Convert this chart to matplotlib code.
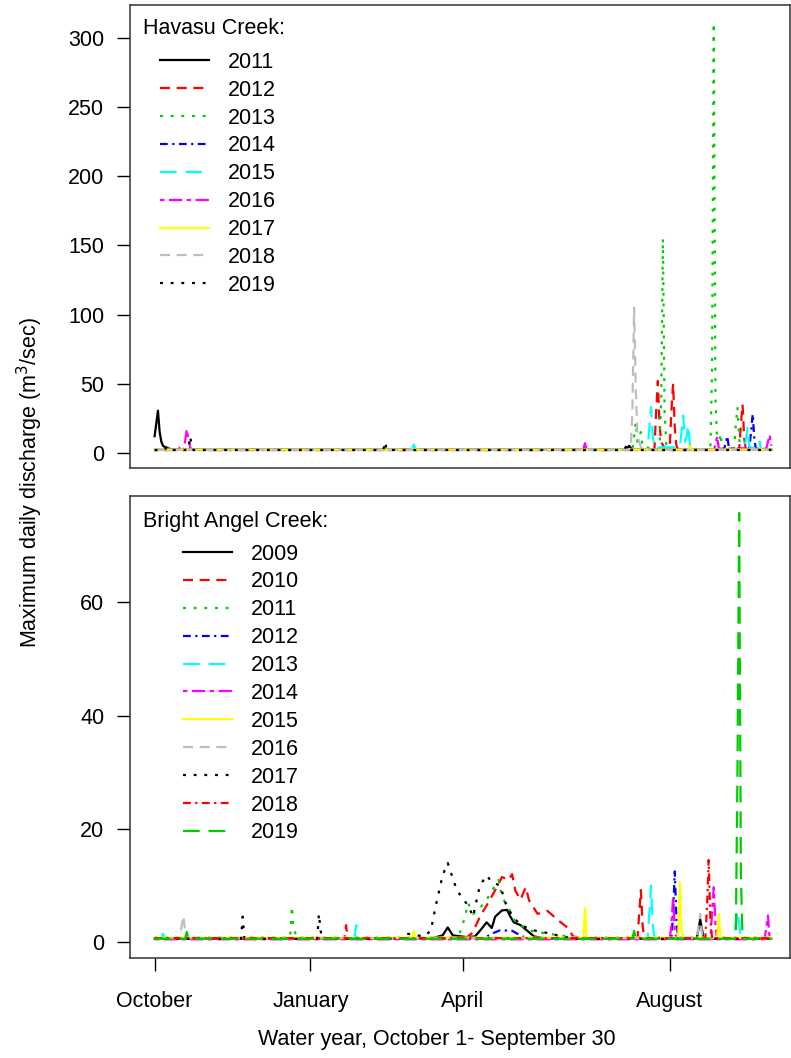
import matplotlib
matplotlib.use("Agg")
import matplotlib.pyplot as plt

plt.rcParams["font.family"] = ["Liberation Sans", "DejaVu Sans"]

# R default palette / line types (cycled like base R does)
R_COLORS = ["black", "#FF0000", "#00CD00", "#0000FF", "#00FFFF", "#FF00FF", "#FFFF00", "#BEBEBE"]
R_LTY = ["-", (0, (4.5, 3)), (0, (1.3, 3.5)), (0, (3.5, 2, 1, 2)), (0, (7.5, 4)), (0, (2, 2, 6, 2))]

MONTH_DAYS = [1, 93, 183, 305]
MONTH_LABELS = ["October", "January", "April", "August"]

# Havasu Creek, (day of water year, max daily discharge m3/s)
havasu_years = [2011, 2012, 2013, 2014, 2015, 2016, 2017, 2018, 2019]
hav_2011 = [(1, 12.0), (2, 21.0), (3, 30.5), (4, 15.0), (5, 8.0), (6, 5.0), (8, 3.5), (12, 2.3),
            (279, 2.3), (281, 5.0), (283, 2.3), (365, 2.3)]
hav_2012 = [(1, 2.2), (15, 2.2), (16, 4.0), (17, 2.2), (296, 2.2), (297, 30.0), (298, 52.0), (299, 20.0),
            (300, 8.0), (302, 3.0), (305, 3.0), (306, 30.0), (307, 50.0), (308, 18.0), (309, 5.0),
            (310, 2.2), (346, 2.2), (347, 20.0), (348, 35.0), (349, 10.0), (350, 2.2), (365, 2.2)]
hav_2013 = [(1, 2.0), (283, 2.0), (285, 22.0), (286, 8.0), (288, 15.0), (289, 4.0), (299, 3.0),
            (300, 40.0), (301, 155.0), (302, 30.0), (303, 6.0), (305, 2.0), (329, 2.0), (330, 60.0),
            (331, 311.0), (332, 40.0), (333, 8.0), (334, 5.0), (335, 14.0), (336, 3.0), (343, 3.0),
            (344, 20.0), (345, 33.0), (346, 10.0), (347, 2.0), (365, 2.0)]
hav_2014 = [(1, 2.1), (337, 2.1), (338, 7.0), (339, 12.0), (340, 3.0), (352, 3.0), (353, 15.0),
            (354, 28.0), (355, 9.0), (356, 2.1), (365, 2.1)]
hav_2015 = [(1, 2.2), (153, 2.2), (154, 6.0), (155, 2.2), (292, 2.2), (293, 18.0), (294, 33.0),
            (295, 12.0), (296, 4.0), (311, 4.0), (312, 15.0), (313, 27.0), (314, 8.0), (315, 12.0),
            (316, 20.0), (317, 5.0), (319, 2.2), (349, 2.2), (350, 10.0), (351, 18.0), (352, 4.0),
            (357, 3.0), (358, 8.0), (359, 2.2), (365, 2.2)]
hav_2016 = [(1, 2.0), (18, 2.0), (19, 8.0), (20, 17.0), (21, 10.0), (22, 4.0), (23, 2.0), (254, 2.0),
            (255, 7.0), (256, 2.0), (331, 2.0), (332, 6.0), (333, 12.0), (334, 3.0), (362, 3.0),
            (364, 13.0), (365, 5.0)]
hav_2017 = [(1, 2.3), (316, 2.3), (317, 5.0), (318, 2.3), (365, 2.3)]
hav_2018 = [(1, 2.1), (282, 2.1), (283, 30.0), (284, 105.0), (285, 45.0), (286, 12.0), (288, 4.0),
            (290, 2.1), (365, 2.1)]
hav_2019 = [(1, 2.0), (7, 2.0), (8, 4.0), (9, 2.0), (21, 2.0), (22, 12.0), (23, 4.0), (24, 2.0),
            (136, 2.0), (137, 8.0), (138, 2.0), (199, 2.0), (200, 3.0), (201, 2.0), (278, 2.0),
            (280, 6.0), (282, 2.0), (365, 2.0)]

# Bright Angel Creek
bright_years = [2009, 2010, 2011, 2012, 2013, 2014, 2015, 2016, 2017, 2018, 2019]
ba_2009 = [(1, 0.7), (165, 0.7), (171, 1.2), (174, 2.6), (177, 1.2), (185, 0.9), (190, 1.0), (193, 2.0),
           (197, 3.5), (200, 2.5), (202, 4.5), (206, 5.6), (209, 5.7), (211, 4.5), (213, 3.5), (217, 3.0),
           (221, 2.0), (225, 1.0), (231, 0.7), (321, 0.7), (323, 4.0), (325, 0.7), (365, 0.7)]
ba_2010 = [(1, 0.6), (113, 0.6), (114, 3.0), (115, 0.6), (185, 0.8), (188, 1.5), (190, 2.5), (193, 4.5),
           (197, 6.5), (203, 9.7), (206, 11.5), (210, 11.0), (212, 12.0), (214, 9.0), (217, 7.5),
           (220, 9.7), (222, 7.4), (227, 5.0), (233, 5.5), (239, 3.9), (245, 2.5), (248, 1.0), (255, 0.6),
           (286, 0.6), (287, 5.0), (288, 9.2), (289, 3.0), (290, 0.6), (365, 0.6)]
ba_2011 = [(1, 0.8), (81, 0.8), (82, 6.3), (83, 2.5), (85, 0.8), (176, 0.8), (181, 1.5), (184, 4.2),
           (186, 6.9), (189, 5.0), (193, 6.0), (197, 7.5), (201, 9.5), (204, 11.0), (206, 8.0), (210, 6.0),
           (213, 4.0), (217, 3.0), (223, 2.0), (233, 1.5), (245, 1.0), (252, 0.8), (365, 0.8)]
ba_2012 = [(1, 0.6), (195, 0.6), (200, 1.5), (205, 2.1), (212, 2.0), (218, 1.0), (225, 0.6), (306, 0.6),
           (307, 5.0), (308, 12.5), (309, 4.0), (310, 0.6), (365, 0.6)]
ba_2013 = [(1, 0.7), (5, 0.7), (6, 1.5), (7, 0.7), (119, 0.7), (120, 3.0), (121, 0.7), (292, 0.7),
           (293, 5.0), (294, 10.0), (295, 3.0), (296, 0.7), (343, 0.7), (345, 5.5), (347, 0.7), (365, 0.7)]
ba_2014 = [(1, 0.5), (305, 0.5), (306, 3.0), (307, 8.0), (308, 2.0), (309, 0.5), (329, 0.5), (331, 9.7),
           (332, 3.0), (333, 0.5), (361, 0.5), (363, 4.7), (364, 0.5), (365, 0.5)]
ba_2015 = [(1, 0.8), (153, 0.8), (154, 2.0), (155, 0.8), (254, 0.8), (255, 6.0), (256, 0.8), (310, 0.8),
           (311, 10.6), (312, 2.0), (313, 0.8), (333, 0.8), (334, 5.0), (335, 0.8), (365, 0.8)]
ba_2016 = [(1, 0.7), (16, 0.7), (17, 3.0), (18, 4.6), (19, 2.0), (20, 0.7), (321, 0.7), (323, 5.0),
           (324, 1.5), (325, 0.7), (365, 0.7)]
ba_2017 = [(1, 0.6), (52, 0.6), (53, 4.5), (54, 0.6), (97, 0.6), (98, 5.0), (99, 2.0), (100, 0.6),
           (148, 0.6), (150, 1.5), (160, 1.0), (164, 2.0), (167, 6.5), (171, 11.8), (174, 14.0),
           (177, 11.3), (179, 9.5), (182, 8.0), (186, 6.5), (189, 4.5), (190, 6.0), (193, 10.0),
           (197, 11.8), (200, 10.6), (205, 10.0), (208, 7.0), (212, 4.7), (217, 3.0), (226, 2.0),
           (235, 1.5), (241, 1.0), (250, 0.6), (365, 0.6)]
ba_2018 = [(1, 0.7), (326, 0.7), (327, 6.0), (328, 14.5), (329, 4.0), (330, 0.7), (365, 0.7)]
ba_2019 = [(1, 0.6), (19, 0.6), (20, 1.8), (21, 0.6), (283, 0.6), (284, 2.0), (285, 0.6), (344, 0.6),
           (345, 30.0), (346, 75.8), (347, 12.0), (348, 0.6), (365, 0.6)]

havasu_series = [hav_2011, hav_2012, hav_2013, hav_2014, hav_2015, hav_2016, hav_2017, hav_2018, hav_2019]
bright_series = [ba_2009, ba_2010, ba_2011, ba_2012, ba_2013, ba_2014, ba_2015, ba_2016, ba_2017,
                 ba_2018, ba_2019]

FS = 15.5


def draw_panel(ax, years, series, title, ylim, yticks, leg_anchor):
    for i, (year, pts) in enumerate(zip(years, series)):
        days, q = zip(*pts)
        ax.plot(days, q, color=R_COLORS[i % 8], ls=R_LTY[i % 6], lw=1.6, label=str(year))
    ax.set_xlim(-13.5, 376)
    ax.set_ylim(*ylim)
    ax.set_yticks(yticks)
    ax.tick_params(axis="y", direction="out", length=9.5, width=1, pad=9, labelsize=FS)
    for sp in ax.spines.values():
        sp.set_linewidth(1.1)
        sp.set_color("#333333")
    ax.text(0.0197, title[1], title[0], transform=ax.transAxes, fontsize=FS, va="center", ha="left")
    ax.legend(loc="upper left", bbox_to_anchor=leg_anchor, frameon=False, fontsize=FS,
              handlelength=2.3, handletextpad=0.85, labelspacing=0.32, borderpad=0, borderaxespad=0)


fig = plt.figure(figsize=(7.91, 10.58), dpi=100)
ax_top = fig.add_axes([130 / 791, 1 - 468 / 1058, 660 / 791, 463 / 1058])
ax_bot = fig.add_axes([130 / 791, 1 - 958 / 1058, 660 / 791, 462 / 1058])

draw_panel(ax_top, havasu_years, havasu_series, ("Havasu Creek:", 0.950),
           (-11, 324), [0, 50, 100, 150, 200, 250, 300], (0.045, 0.899))
ax_top.set_xticks([])

draw_panel(ax_bot, bright_years, bright_series, ("Bright Angel Creek:", 0.944),
           (-2.8, 78.8), [0, 20, 40, 60], (0.080, 0.897))
ax_bot.set_xticks(MONTH_DAYS)
ax_bot.set_xticklabels(MONTH_LABELS)
ax_bot.tick_params(axis="x", direction="out", length=9.5, width=1, pad=14, labelsize=FS)

fig.text(30 / 791, 1 - 482 / 1058, "Maximum daily discharge (m$^3$/sec)", rotation=90,
         ha="center", va="center", fontsize=FS)
fig.text(437 / 791, 1 - 1040 / 1058, "Water year, October 1- September 30",
         ha="center", va="center", fontsize=FS)

fig.savefig("out.png", dpi=100)
